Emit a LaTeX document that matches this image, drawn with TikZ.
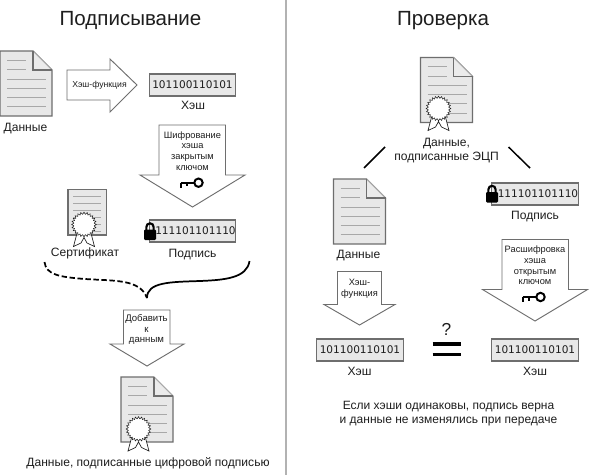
\documentclass[tikz,border=0pt]{standalone}
\usepackage{fontspec}
\setmainfont{Liberation Sans}
\newfontfamily\digitfont{DejaVu Sans}
\usetikzlibrary{shapes.geometric}
\definecolor{paper}{HTML}{E8E8E8}
\definecolor{edge}{HTML}{6E6E6E}
\definecolor{rule}{HTML}{A8A8A8}
\definecolor{ink}{HTML}{1E1E1E}
\tikzstyle{title} = [font=\fontsize{15.4}{18}\selectfont, text=ink]
\tikzstyle{label} = [font=\fontsize{9.05}{11}\selectfont, text=ink, align=center]
\tikzstyle{small} = [font=\fontsize{6.95}{8}\selectfont, text=ink, align=center]
\tikzstyle{hashbox} = [
    rectangle,
    minimum width=65pt,
    minimum height=16.5pt,
    inner sep=0pt,
    draw=edge,
    fill=paper,
    line width=0.8pt,
    font=\digitfont\fontsize{7.9}{10}\selectfont,
    text=ink
]
\tikzstyle{blockarrow} = [draw=edge, fill=white, line width=0.7pt, line join=miter]
\tikzstyle{sheet} = [draw=edge, fill=paper, line width=0.8pt]
\tikzstyle{textline} = [draw=rule, line width=0.7pt]
\tikzstyle{medalstar} = [
    star,
    star points=24,
    star point ratio=1.2,
    minimum size=18.5pt,
    inner sep=0pt,
    draw=ink,
    fill=white,
    line width=0.4pt
]
\tikzstyle{slash} = [line width=1.1pt, black]
\tikzstyle{curve} = [line width=1.3pt, black]
% page with folded corner, top left at #1,#2
\newcommand{\docpage}[2]{
\begin{scope}[shift={(#1,#2)}]
\draw [sheet] (0,0) -- (33,0) -- (52,19) -- (52,65) -- (0,65) -- cycle;
\draw [draw=rule, fill=white!92!black, line width=0.7pt] (33,0) -- (52,19) -- (33,19);
\draw [draw=edge, line width=0.8pt] (33,0) -- (33,19) -- (52,19);
\foreach \ypos in {9.3,18.6} \draw [textline] (7,\ypos) -- (26,\ypos);
\foreach \ypos in {28,37,46.3,55.6} \draw [textline] (7,\ypos) -- (46,\ypos);
\end{scope}
}
% seal with ribbon, centre at #1,#2
\newcommand{\seal}[2]{
\begin{scope}[shift={(#1,#2)}]
\draw [draw=ink, fill=white, line width=0.5pt] (-6,5) -- (-10.5,22) -- (-3,18.5) -- (0,13) -- (3,18.5) -- (10.5,22) -- (6,5) -- cycle;
\node [medalstar] at (0,0) {};
\end{scope}
}
% key, stem level at #2
\newcommand{\keyicon}[2]{
\begin{scope}[shift={(#1,#2)}]
\draw [line width=1.5pt, black] (-11.5,-1) -- (3,-1);
\draw [line width=1.5pt, black] (-10.6,-1) -- (-10.6,4);
\draw [line width=1.5pt, black] (-5,-1) -- (-5,2.5);
\draw [line width=1.5pt, black, fill=white] (6.5,-1) circle (4.2);
\end{scope}
}
% lock, body top centre at #1,#2
\newcommand{\lockicon}[2]{
\begin{scope}[shift={(#1,#2)}]
\fill [black, rounded corners=0.8pt] (-6,0) rectangle (6,10.5);
\draw [line width=1.6pt, black] (-3.6,1) -- (-3.6,-2.6) arc (180:360:3.6) -- (3.6,1);
\end{scope}
}

\begin{document}
\begin{tikzpicture}[x=0.75pt, y=-0.75pt]
\useasboundingbox (0,0) rectangle (591,475);

\fill [white] (0,0) rectangle (591,475);
\draw [draw=black!30, line width=1.5pt] (286,0) -- (286,475);

% signing side
\node (signtitle) [title] at (130.5,20.5) {Подписывание};

\docpage{0}{51}
\node (datalabel) [label] at (25.5,128.5) {Данные};

\draw [blockarrow] (67,70) -- (110,70) -- (110,59) -- (137,85) -- (110,112) -- (110,100) -- (67,100) -- cycle;
\node (hashfunc) [small, font=\fontsize{6.5}{8}\selectfont] at (99.5,85) {Хэш-функция};

\node (hashbox) [hashbox] at (192.5,85) {101100110101};
\node (hashlabel) [label] at (193,105) {Хэш};

\draw [blockarrow] (159,125) -- (225.5,125) -- (225.5,175) -- (245,175) -- (192.5,207) -- (140,175) -- (159,175) -- cycle;
\node (encrypt) [small] at (192.5,151) {Шифрование\\хэша\\закрытым\\ключом};
\keyicon{192}{183.7}

\draw [sheet] (68,189.5) rectangle (106.5,235);
\foreach \ypos in {196,203,210,217} \draw [textline] (73,\ypos) -- (101,\ypos);
\foreach \ypos in {224,231} \draw [textline] (92,\ypos) -- (101,\ypos);
\seal{84}{224.5}
\node (certlabel) [label] at (85,253) {Сертификат};

\node (sigbox) [hashbox] at (192.5,231) {\hspace{4.5pt}111101101110};
\lockicon{150}{229.5}
\node (siglabel) [label] at (192.5,254.5) {Подпись};

\coordinate (certend) at (44.5,262);
\coordinate (sigend) at (249.5,261);
\coordinate (join) at (147,298);
\draw [curve, dashed, dash pattern=on 4pt off 2pt] (certend) .. controls (46,275) and (60,277) .. (85,279) .. controls (115,281) and (140,279) .. (join);
\draw [curve] (sigend) .. controls (247,278) and (225,280) .. (200,281) .. controls (170,282) and (147,282) .. (join);

\draw [blockarrow] (123.5,310) -- (170,310) -- (170,344) -- (184,344) -- (147,366) -- (110,344) -- (123.5,344) -- cycle;
\node (append) [small, font=\fontsize{7.2}{8}\selectfont] at (146.5,329.5) {Добавить\\к\\данным};

\docpage{121}{377}
\seal{138.5}{429}
\node (signedlabel) [label] at (148,463) {Данные, подписанные цифровой подписью};

% checking side
\node (checktitle) [title] at (443,20.5) {Проверка};

\docpage{420.5}{57.5}
\seal{438.5}{108.5}
\node (signeddata) [label] at (446.5,150.5) {Данные,\\подписанные ЭЦП};

\coordinate (leftA) at (385,147);
\coordinate (leftB) at (364,168);
\coordinate (rightA) at (508.5,147);
\coordinate (rightB) at (530,168);
\draw [slash] (leftA) -- (leftB);
\draw [slash] (rightA) -- (rightB);

\docpage{333.5}{179}
\node (checkdata) [label] at (358.5,255.5) {Данные};

\node (checksig) [hashbox] at (535,194) {\hspace{4.5pt}111101101110};
\lockicon{492}{192}
\node (checksiglabel) [label] at (535,216.5) {Подпись};

\draw [blockarrow] (337.5,271.5) -- (381.5,271.5) -- (381.5,304.5) -- (395,304.5) -- (359.5,325) -- (324,304.5) -- (337.5,304.5) -- cycle;
\node (checkfunc) [small] at (359.5,289) {Хэш-\\функция};

\draw [blockarrow] (502,239.5) -- (568.5,239.5) -- (568.5,289.5) -- (587.5,289.5) -- (535,321) -- (482.5,289.5) -- (502,289.5) -- cycle;
\node (decrypt) [small] at (535,265.5) {Расшифровка\\хэша\\открытым\\ключом};
\keyicon{534}{298}

\node (hashleft) [hashbox] at (360,350) {101100110101};
\node (hashright) [hashbox] at (535,350) {101100110101};
\node (hashleftlabel) [label] at (359.5,371) {Хэш};
\node (hashrightlabel) [label] at (535,371) {Хэш};

\node (question) [font=\fontsize{13}{15}\selectfont, text=ink] at (446.5,329) {?};
\coordinate (eqA) at (432.5,344);
\coordinate (eqB) at (460.5,344);
\coordinate (eqC) at (432.5,354.5);
\coordinate (eqD) at (460.5,354.5);
\draw [line width=2.3pt, black] (eqA) -- (eqB);
\draw [line width=2.3pt, black] (eqC) -- (eqD);

\node (verdict) [label, font=\fontsize{9}{10}\selectfont] at (448.5,413.5) {Если хэши одинаковы, подпись верна\\и данные не изменялись при передаче};

\end{tikzpicture}
\end{document}
